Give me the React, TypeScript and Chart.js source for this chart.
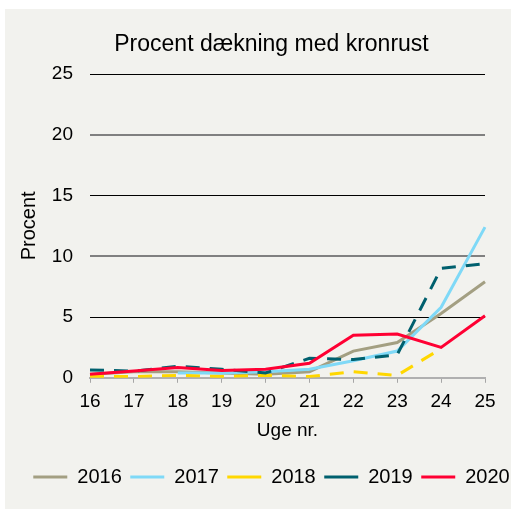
import React, { useEffect, useRef } from "react";
import { Chart, registerables } from "chart.js";

Chart.register(...registerables);

const weeks = ["16", "17", "18", "19", "20", "21", "22", "23", "24", "25"];
const s2016 = [0.3, 0.5, 0.5, 0.4, 0.3, 0.5, 2.2, 2.9, 5.3, 7.9];
const s2017 = [null, null, 0.4, 0.4, 0.5, 0.7, 1.4, 2.2, 5.8, 12.4];
const s2018 = [0.1, 0.1, 0.2, 0.1, 0.2, 0.1, 0.5, 0.2, 2.4, null];
const s2019 = [0.65, 0.55, 0.95, 0.7, 0.4, 1.6, 1.5, 1.9, 9.0, 9.4];
const s2020 = [0.3, 0.55, 0.85, 0.6, 0.7, 1.2, 3.5, 3.6, 2.5, 5.1];
const seriesNames = ["2016", "2017", "2018", "2019", "2020"];
const yTicks = [0, 5, 10, 15, 20, 25];

const FONT = "'Liberation Sans', Arial, sans-serif";

export default function App() {
  const ref = useRef<HTMLCanvasElement | null>(null);

  useEffect(() => {
    if (!ref.current) return;
    Chart.defaults.font.family = FONT;
    Chart.defaults.color = "#000";
    const colors = ["#a39f82", "#7fd9f7", "#ffd700", "#00606e", "#ff0033"];
    const dashes = [[], [], [14, 10], [14, 10], []];
    const values = [s2016, s2017, s2018, s2019, s2020];
    const chart = new Chart(ref.current, {
      type: "line",
      data: {
        labels: weeks,
        datasets: seriesNames.map((name, i) => ({
          label: name,
          data: values[i],
          borderColor: colors[i],
          backgroundColor: colors[i],
          borderWidth: 3,
          borderDash: dashes[i],
          pointRadius: 0,
          pointHoverRadius: 0,
          tension: 0,
          fill: false,
          spanGaps: false,
          order: 5 - i,
          yAxisID: "y",
        })),
      },
      options: {
        responsive: false,
        animation: false,
        layout: { padding: { left: 0, right: 0, top: 0, bottom: 12 } },
        plugins: {
          title: {
            display: true,
            text: "Procent dækning med kronrust",
            color: "#000",
            font: { size: 23, family: FONT, weight: "normal" },
            padding: { top: 22, bottom: 15.4 },
          },
          legend: {
            display: true,
            position: "bottom",
            reverse: true,
            labels: {
              usePointStyle: true,
              pointStyle: "line",
              pointStyleWidth: 34,
              boxHeight: 20,
              padding: 8.5,
              color: "#000",
              font: { size: 20, family: FONT },
            },
          },
          tooltip: { enabled: false },
        },
        scales: {
          x: {
            type: "category",
            offset: false,
            border: { display: true, color: "#b0b0b0", width: 2 },
            grid: {
              drawOnChartArea: false,
              drawTicks: true,
              tickLength: 5,
              color: "#a6a6a6",
              lineWidth: 1,
            },
            ticks: { padding: 7.5, color: "#000", font: { size: 19, family: FONT }, maxRotation: 0, autoSkip: false },
            title: {
              display: true,
              text: "Uge nr.",
              color: "#000",
              font: { size: 19, family: FONT },
              padding: { top: -1.5, bottom: 16.6 },
            },
          },
          y: {
            min: 0,
            max: 25,
            afterFit: (scale: any) => {
              scale.width = 85;
            },
            afterBuildTicks: (scale: any) => {
              scale.ticks = yTicks.map((v) => ({ value: v }));
            },
            border: { display: false },
            grid: {
              drawTicks: false,
              color: (ctx: any) => {
                const v = ctx.tick ? ctx.tick.value : -1;
                if (v === 0) return "rgba(0,0,0,0)";
                if (v === 10 || v === 20) return "#808080";
                return "#000";
              },
              lineWidth: (ctx: any) => {
                const v = ctx.tick ? ctx.tick.value : -1;
                return v === 10 || v === 20 ? 2 : 1;
              },
            },
            ticks: { padding: 17, color: "#000", font: { size: 19, family: FONT } },
            title: {
              display: true,
              text: "Procent",
              color: "#000",
              font: { size: 20, family: FONT },
              padding: { top: 12, bottom: 0 },
            },
          },
          yRight: {
            type: "linear",
            position: "right",
            display: true,
            min: 0,
            max: 25,
            afterFit: (scale: any) => {
              scale.width = 53;
            },
            border: { display: false },
            grid: { display: false, drawOnChartArea: false, drawTicks: false },
            ticks: { display: false },
          },
        },
      },
    });
    return () => chart.destroy();
  }, []);

  return (
    <div
      style={{
        position: "absolute",
        left: 5,
        top: 9,
        width: 506,
        height: 500,
        background: "#f2f2ee",
        overflow: "hidden",
      }}
    >
      <canvas ref={ref} width={533} height={500} style={{ position: "absolute", left: 0, top: 0 }} />
    </div>
  );
}
